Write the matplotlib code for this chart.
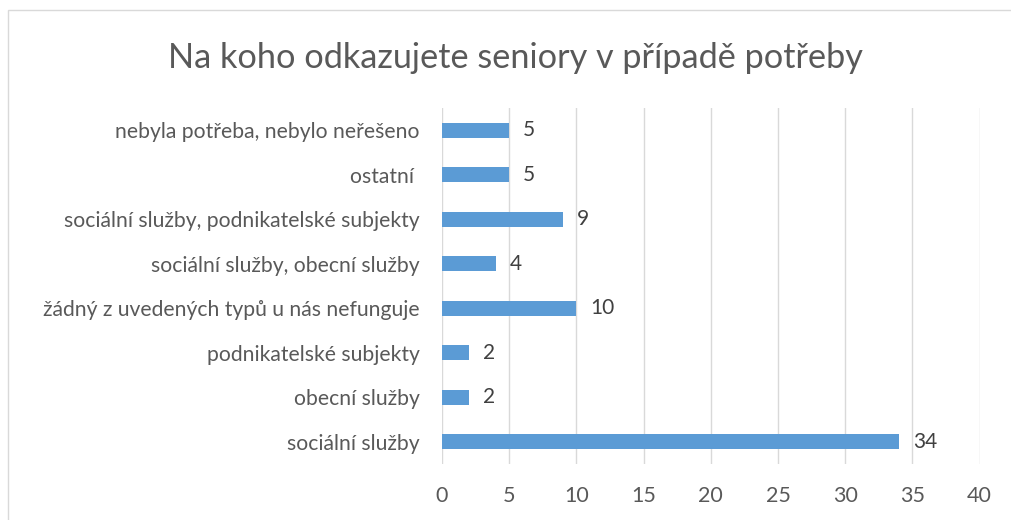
import matplotlib.pyplot as plt
from matplotlib.patches import Rectangle

# Data (zdola nahoru)
categories = ['sociální služby', 'obecní služby', 'podnikatelské subjekty',
              'žádný z uvedených typů u nás nefunguje', 'sociální služby, obecní služby',
              'sociální služby, podnikatelské subjekty', 'ostatní ', 'nebyla potřeba, nebylo neřešeno']
values = [34, 2, 2, 10, 4, 9, 5, 5]
xticks = [0, 5, 10, 15, 20, 25, 30, 35, 40]

plt.rcParams['font.family'] = ['Lato', 'DejaVu Sans']
text_color = '#595959'

fig = plt.figure(figsize=(10.11, 5.2), dpi=100)
ax = fig.add_axes([0.437, 0.108, 0.532, 0.684])

y = range(len(categories))
ax.barh(y, values, height=0.34, color='#5B9BD5', zorder=3)
for yi, v in zip(y, values):
    ax.annotate(str(v), (v, yi), xytext=(10, 0), textcoords='offset points',
                va='center', ha='left', fontsize=15, color='#404040')

ax.set_xlim(0, 40)
ax.set_ylim(-0.5, len(categories) - 0.5)
ax.set_xticks(xticks)
ax.set_yticks(list(y))
ax.set_yticklabels(categories)
ax.tick_params(axis='x', length=0, labelsize=15.5, labelcolor=text_color, pad=16)
ax.tick_params(axis='y', length=0, labelsize=15.2, labelcolor=text_color, pad=16)
ax.grid(axis='x', color='#D9D9D9', linewidth=1, zorder=0)
for s in ax.spines.values():
    s.set_visible(False)

fig.text(0.51, 0.888, 'Na koho odkazujete seniory v případě potřeby',
         ha='center', va='center', fontsize=24.7, color=text_color)

fig.patches.append(Rectangle((0.008, -0.01), 1.0, 0.99, transform=fig.transFigure,
                             fill=False, edgecolor='#D9D9D9', linewidth=1))

fig.savefig('out.png', dpi=100)
